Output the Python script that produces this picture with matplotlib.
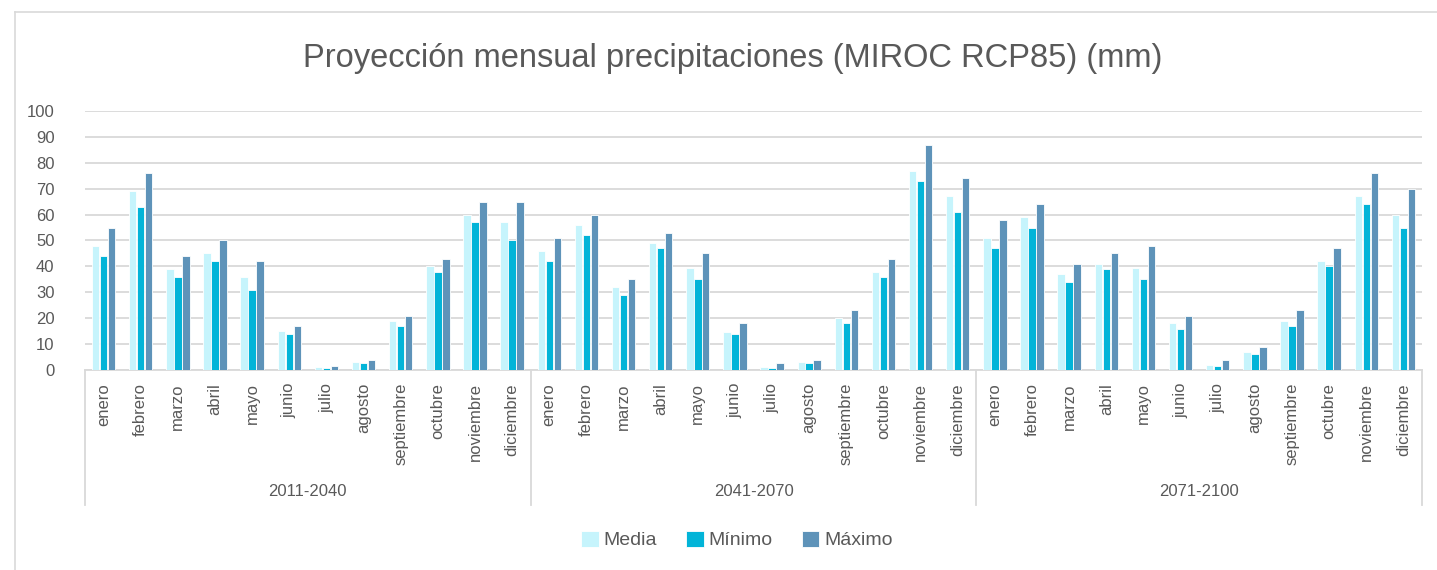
import matplotlib.pyplot as plt
import numpy as np
from matplotlib.lines import Line2D

plt.rcParams['font.family'] = ['Liberation Sans', 'DejaVu Sans']

# data
meses = ['enero', 'febrero', 'marzo', 'abril', 'mayo', 'junio', 'julio',
         'agosto', 'septiembre', 'octubre', 'noviembre', 'diciembre']
periodos = ['2011-2040', '2041-2070', '2071-2100']

media = [48, 69, 39, 45, 36, 15, 1.3, 3, 19, 40, 60, 57,
         46, 56, 32, 49, 39.5, 14.5, 1, 3, 20, 38, 77, 67,
         51, 59, 37, 41, 39.5, 18, 2, 7, 19, 42, 67, 60]
minimo = [44, 63, 36, 42, 31, 14, 0.8, 2.7, 17, 38, 57, 50,
          42, 52, 29, 47, 35, 14, 0.8, 2.7, 18, 36, 73, 61,
          47, 55, 34, 39, 35, 16, 1.7, 6, 17, 40, 64, 55]
maximo = [55, 76, 44, 50, 42, 17, 1.7, 3.7, 21, 43, 65, 65,
          51, 60, 35, 53, 45, 18, 2.7, 3.7, 23, 43, 87, 74,
          58, 64, 41, 45, 48, 21, 3.7, 9, 23, 47, 76, 70]

series = [('Media', media, '#c6f4fc'),
          ('Mínimo', minimo, '#02b4d8'),
          ('Máximo', maximo, '#5e93b9')]

W, H = 1437, 570
fig = plt.figure(figsize=(W / 100, H / 100), dpi=100)
ax = fig.add_axes([85 / W, 1 - 370 / H, (1422 - 85) / W, (370 - 111) / H])

x = np.arange(len(media))
for i, (name, vals, col) in enumerate(series):
    ax.bar(x + (i - 1) * 0.215, vals, width=0.2, color=col,
           edgecolor='white', linewidth=0.6, label=name, zorder=3)

ax.set_xlim(-0.5, len(media) - 0.5)
ax.set_ylim(0, 100)
ax.set_yticks(range(0, 101, 10))
ax.tick_params(axis='y', length=0, labelsize=12, labelcolor='#595959', pad=22)
ax.set_xticks([])
ax.grid(axis='y', color='#d9d9d9', linewidth=1.3, zorder=0)
for s in ['top', 'right', 'left']:
    ax.spines[s].set_visible(False)
ax.spines['bottom'].set_color('#d9d9d9')
ax.spines['bottom'].set_linewidth(1.3)

# multi-level category axis
trans = ax.get_xaxis_transform()
for k in range(len(periodos) + 1):
    ax.add_line(Line2D([k * 12 - 0.5] * 2, [0, -135 / 259], transform=trans,
                       color='#d9d9d9', linewidth=1.3, clip_on=False))
for j in x:
    ax.text(j, -13 / 259, meses[j % 12], transform=trans, rotation=90,
            ha='center', va='top', fontsize=12, color='#595959')
for k, p in enumerate(periodos):
    ax.text(k * 12 + 5.5, -122 / 259, p, transform=trans, ha='center',
            va='center', fontsize=12, color='#595959')

fig.text(733 / W, 1 - 59 / H, 'Proyección mensual precipitaciones (MIROC RCP85) (mm)',
         ha='center', va='center', fontsize=23.5, color='#595959')

fig.legend(loc='center', bbox_to_anchor=(737 / W, 1 - 540 / H), ncol=3,
           frameon=False, fontsize=14, labelcolor='#595959',
           handlelength=0.9, handleheight=0.9, handletextpad=0.25,
           columnspacing=1.5)

# chart frame
fig.add_artist(Line2D([15 / W, 15 / W], [0, 1 - 12 / H], transform=fig.transFigure,
                      color='#d9d9d9', linewidth=1.2))
fig.add_artist(Line2D([15 / W, 1], [1 - 12 / H, 1 - 12 / H], transform=fig.transFigure,
                      color='#d9d9d9', linewidth=1.2))

fig.savefig('out.png', dpi=100)
